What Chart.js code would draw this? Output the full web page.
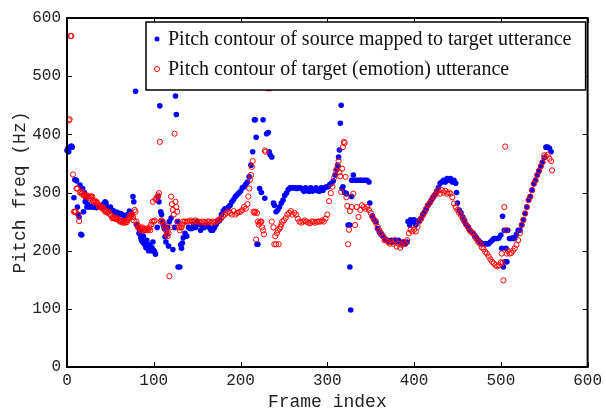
<!DOCTYPE html>
<html>
<head>
<meta charset="utf-8">
<script src="https://cdn.jsdelivr.net/npm/chart.js@4.4.1/dist/chart.umd.min.js"></script>
<style>
  html, body { margin: 0; padding: 0; background: #fff; }
</style>
</head>
<body>
<canvas id="pitch-chart" width="606" height="412"></canvas>
<script>
// Series names and axis ticks
const seriesLabels = [
    'Pitch contour of source mapped to target utterance',
    'Pitch contour of target (emotion) utterance'
];
const xTicks = [0, 100, 200, 300, 400, 500, 600];
const yTicks = [0, 100, 200, 300, 400, 500, 600];

// [frame index, pitch Hz]
const sourceContour = [
    [0,372],[1,376],[2,370],[3,378],[5,380],[6,378],[8,291],[9,322],[10,322],[11,320],
    [12,275],[13,262],[14,258],[15,313],[16,228],[17,227],[18,307],[19,267],[20,300],[21,284],
    [22,290],[23,275],[24,280],[26,275],[28,276],[30,275],[32,275],[34,274],[36,276],[38,275],
    [40,275],[42,280],[44,284],[45,282],[46,275],[48,272],[50,275],[52,270],[54,268],[56,265],
    [58,266],[60,262],[62,264],[64,262],[66,258],[68,260],[70,262],[72,268],[74,262],[76,293],
    [77,284],[79,474],[80,245],[82,240],[83,230],[84,232],[85,222],[86,218],[87,215],[88,225],
    [89,212],[90,210],[91,205],[92,218],[93,205],[94,200],[95,210],[96,204],[97,200],[98,205],
    [99,215],[100,200],[101,198],[102,194],[104,240],[105,293],[106,284],[107,449],[108,267],[109,262],
    [110,250],[111,244],[112,238],[113,224],[114,215],[115,230],[116,240],[117,208],[118,250],[120,256],
    [122,202],[124,240],[125,466],[126,434],[127,250],[128,172],[130,172],[131,210],[132,204],[133,213],
    [134,222],[136,230],[138,225],[140,240],[142,238],[144,238],[146,245],[148,240],[150,250],[152,245],
    [154,235],[156,243],[158,240],[160,243],[162,245],[164,240],[166,235],[168,235],[170,240],[172,245],
    [174,250],[176,252],[178,262],[180,268],[182,272],[184,272],[186,275],[188,278],[190,284],[192,288],
    [194,293],[196,296],[198,299],[200,302],[202,308],[204,310],[206,314],[208,318],[210,327],[212,347],
    [214,370],[216,425],[217,425],[218,395],[219,211],[220,211],[222,307],[224,300],[226,425],[228,290],
    [230,401],[232,403],[233,370],[234,365],[236,361],[238,282],[239,278],[241,267],[243,270],[245,275],
    [247,282],[249,287],[251,295],[253,299],[255,305],[257,308],[259,308],[261,308],[263,308],[265,307],
    [267,308],[269,308],[271,306],[273,302],[275,308],[277,303],[279,302],[281,308],[283,302],[285,304],
    [287,308],[289,303],[291,302],[293,308],[295,304],[297,308],[299,310],[301,310],[303,314],[305,316],
    [307,320],[309,330],[311,340],[312,347],[313,361],[314,373],[315,419],[316,450],[317,307],[318,310],
    [320,300],[322,298],[324,244],[326,172],[326,244],[327,98],[328,293],[328,321],[330,330],[332,321],
    [334,321],[336,321],[338,321],[340,321],[342,321],[344,321],[346,321],[348,318],[349,282],[352,260],
    [354,253],[356,250],[358,238],[360,232],[362,228],[364,225],[366,221],[368,218],[370,218],[372,215],
    [374,218],[376,215],[378,218],[380,215],[382,218],[384,215],[386,212],[388,215],[390,212],[392,215],
    [393,250],[395,244],[396,253],[398,250],[400,253],[402,244],[404,250],[406,252],[408,255],[410,262],
    [412,266],[414,272],[416,278],[418,282],[420,287],[422,292],[424,296],[426,302],[428,308],[430,316],
    [432,318],[434,321],[436,318],[438,324],[440,321],[442,324],[444,318],[446,321],[448,316],[449,300],
    [450,282],[452,270],[454,265],[456,258],[458,252],[460,245],[462,241],[464,236],[466,232],[468,230],
    [470,226],[472,222],[474,218],[476,215],[478,212],[480,212],[482,212],[484,212],[486,212],[488,215],
    [490,218],[492,221],[494,221],[496,221],[498,222],[500,227],[501,204],[502,259],[503,172],[504,235],
    [505,181],[506,204],[507,181],[508,235],[510,221],[512,221],[514,222],[516,221],[518,228],[520,235],
    [522,235],[524,244],[526,253],[528,264],[530,275],[532,287],[534,293],[536,304],[538,315],[540,321],
    [542,330],[544,337],[546,345],[548,352],[550,360],[552,378],[554,378],[556,376],[558,370]
];

const targetContour = [
    [2,424],[3,426],[4,569],[5,569],[7,331],[8,267],[9,267],[10,267],[11,307],[12,307],
    [13,262],[14,251],[15,300],[16,302],[17,298],[18,300],[19,295],[20,295],[21,295],[22,293],
    [23,295],[24,293],[25,293],[26,290],[27,293],[28,293],[29,293],[30,285],[31,284],[32,286],
    [33,284],[34,284],[35,282],[36,278],[37,275],[38,277],[40,275],[41,272],[42,274],[43,270],
    [44,267],[45,268],[46,267],[47,265],[48,267],[50,262],[51,260],[52,256],[53,258],[54,256],
    [55,255],[56,256],[57,254],[58,256],[60,252],[61,250],[62,252],[63,250],[64,248],[65,250],
    [66,251],[67,248],[68,250],[69,249],[70,252],[71,256],[72,258],[73,262],[74,260],[75,262],
    [76,258],[77,252],[78,270],[79,267],[80,250],[81,245],[82,240],[83,238],[84,240],[85,235],
    [86,238],[87,240],[88,235],[89,238],[90,235],[91,236],[92,238],[93,235],[94,236],[95,240],
    [96,235],[97,245],[98,250],[99,284],[100,250],[101,252],[102,288],[103,290],[104,292],[105,295],
    [106,299],[107,387],[108,250],[109,252],[110,250],[112,245],[113,240],[114,235],[115,228],[116,225],
    [117,230],[118,156],[119,240],[120,293],[121,280],[122,270],[123,262],[124,401],[125,284],[126,275],
    [127,267],[128,250],[129,240],[130,235],[131,240],[132,240],[133,245],[134,250],[136,250],[138,250],
    [140,250],[142,252],[144,250],[146,250],[148,252],[150,250],[152,250],[154,248],[156,250],[158,249],
    [160,248],[162,250],[164,250],[166,248],[168,250],[170,249],[172,250],[174,252],[176,254],[178,256],
    [180,260],[182,262],[184,265],[186,267],[188,265],[190,262],[192,268],[194,262],[196,265],[198,266],
    [200,267],[202,270],[204,275],[206,272],[208,280],[209,293],[210,307],[211,322],[212,330],[213,344],
    [214,354],[215,267],[216,265],[217,267],[218,219],[219,265],[220,250],[221,245],[222,248],[223,250],
    [224,250],[225,240],[226,235],[227,228],[228,372],[229,370],[230,482],[231,479],[233,482],[234,479],
    [236,250],[238,240],[239,211],[240,225],[241,211],[242,230],[243,235],[244,211],[245,238],[246,241],
    [247,245],[248,250],[250,252],[252,256],[254,262],[256,265],[258,268],[260,262],[262,265],[264,262],
    [266,255],[268,250],[270,248],[272,250],[274,252],[276,250],[278,248],[280,247],[282,250],[284,250],
    [286,248],[288,250],[290,250],[292,250],[294,252],[296,250],[298,255],[300,262],[302,285],[304,299],
    [306,310],[308,326],[310,338],[312,344],[313,354],[314,335],[315,328],[316,301],[317,341],[318,378],
    [319,387],[320,385],[321,327],[322,292],[323,277],[324,211],[325,236],[326,268],[328,275],[330,298],
    [332,244],[334,275],[336,258],[338,270],[340,278],[342,275],[344,272],[346,275],[348,270],[350,265],
    [352,258],[354,253],[356,248],[358,241],[360,235],[362,230],[364,225],[366,218],[368,218],[370,215],
    [372,212],[374,215],[376,212],[378,218],[380,207],[382,212],[384,205],[386,210],[388,215],[390,212],
    [392,218],[394,230],[396,236],[398,233],[400,236],[402,233],[404,241],[406,250],[408,255],[410,260],
    [412,266],[414,272],[416,278],[418,282],[420,287],[422,292],[424,296],[426,300],[428,304],[430,298],
    [432,304],[434,300],[436,303],[438,298],[440,300],[442,298],[444,292],[446,281],[448,275],[450,270],
    [452,265],[454,261],[456,255],[458,250],[460,245],[462,241],[464,235],[466,232],[468,230],[470,224],
    [472,220],[474,215],[476,212],[478,206],[480,203],[482,198],[484,195],[486,190],[488,185],[490,181],
    [492,178],[494,175],[496,173],[498,175],[500,180],[501,195],[502,179],[503,149],[504,275],[505,379],
    [506,235],[507,195],[508,200],[510,195],[512,196],[514,200],[516,204],[518,210],[520,218],[522,230],
    [524,244],[526,253],[528,264],[530,275],[532,287],[534,293],[536,304],[538,315],[540,321],[542,330],
    [544,337],[546,345],[548,352],[550,364],[552,362],[554,365],[556,358],[558,354],[559,338]
];

const BLUE = '#0000ff';
const RED = '#ff0000';
const MONO = "'Liberation Mono', 'DejaVu Sans Mono', monospace";
const SERIF = "'Liberation Serif', 'DejaVu Serif', serif";

// Box around the axes, inward ticks on all four sides, and the legend
const boxPlugin = {
    id: 'boxPlugin',
    afterDraw(chart) {
        const { ctx, chartArea: a, scales } = chart;
        const tickLen = 5;
        ctx.save();
        ctx.strokeStyle = '#000';
        ctx.lineWidth = 1;
        xTicks.forEach(v => {
            const px = Math.round(scales.x.getPixelForValue(v)) + 0.5;
            ctx.beginPath();
            ctx.moveTo(px, a.bottom); ctx.lineTo(px, a.bottom - tickLen);
            ctx.moveTo(px, a.top); ctx.lineTo(px, a.top + tickLen);
            ctx.stroke();
        });
        yTicks.forEach(v => {
            const py = Math.round(scales.y.getPixelForValue(v)) + 0.5;
            ctx.beginPath();
            ctx.moveTo(a.left, py); ctx.lineTo(a.left + tickLen, py);
            ctx.moveTo(a.right, py); ctx.lineTo(a.right - tickLen, py);
            ctx.stroke();
        });
        ctx.lineWidth = 2;
        ctx.strokeRect(a.left, a.top, a.right - a.left, a.bottom - a.top);

        // Legend box
        const lx = 146, ly = a.top + 4, lw = a.right - 2 - lx, lh = 68;
        ctx.fillStyle = '#fff';
        ctx.fillRect(lx, ly, lw, lh);
        ctx.lineWidth = 1.5;
        ctx.strokeStyle = '#000';
        ctx.strokeRect(lx, ly, lw, lh);

        const rows = [ly + 17, ly + 47];
        const ds = chart.data.datasets;
        ctx.font = '20px ' + SERIF;
        ctx.textBaseline = 'middle';
        ds.forEach((d, i) => {
            const cy = rows[i];
            ctx.beginPath();
            ctx.arc(lx + 11, cy, 2.5, 0, Math.PI * 2);
            if (i === 0) {
                ctx.fillStyle = d.pointBackgroundColor;
                ctx.fill();
            } else {
                ctx.strokeStyle = d.pointBorderColor;
                ctx.lineWidth = 1;
                ctx.stroke();
            }
            ctx.fillStyle = '#111';
            ctx.fillText(d.label, lx + 22, cy + 1);
        });
        ctx.restore();
    }
};

const toPoints = arr => arr.map(([f, hz]) => ({ x: f, y: hz }));

new Chart(document.getElementById('pitch-chart'), {
    type: 'scatter',
    data: {
        datasets: [{
            label: seriesLabels[0],
            data: toPoints(sourceContour),
            pointRadius: 2.8,
            pointBackgroundColor: BLUE,
            pointBorderColor: BLUE,
            pointBorderWidth: 0,
            order: 1,
            clip: false
        }, {
            label: seriesLabels[1],
            data: toPoints(targetContour),
            pointRadius: 2.6,
            pointBackgroundColor: 'rgba(0,0,0,0)',
            pointBorderColor: RED,
            pointBorderWidth: 1,
            order: 0,
            clip: false
        }]
    },
    options: {
        responsive: false,
        animation: false,
        layout: { padding: { top: 18, right: 16, left: 0, bottom: 0 } },
        plugins: {
            legend: { display: false },
            tooltip: { enabled: false }
        },
        scales: {
            x: {
                type: 'linear',
                min: 0,
                max: 600,
                afterBuildTicks: s => { s.ticks = xTicks.map(v => ({ value: v })); },
                afterFit: s => { s.height = 45; },
                grid: { display: false, drawTicks: false },
                border: { display: false },
                ticks: { padding: 4, maxRotation: 0, color: '#222', font: { family: MONO, size: 16 } },
                title: {
                    display: true,
                    text: 'Frame index',
                    color: '#222',
                    font: { family: MONO, size: 18, lineHeight: 1 },
                    padding: { top: 0, bottom: 1 }
                }
            },
            y: {
                type: 'linear',
                min: 0,
                max: 600,
                afterBuildTicks: s => { s.ticks = yTicks.map(v => ({ value: v })); },
                afterFit: s => { s.width = 67; },
                grid: { display: false, drawTicks: false },
                border: { display: false },
                ticks: { padding: 6, color: '#222', font: { family: MONO, size: 16 } },
                title: {
                    display: true,
                    text: 'Pitch freq (Hz)',
                    color: '#222',
                    font: { family: MONO, size: 18, lineHeight: 1 },
                    padding: { top: 11, bottom: 0 }
                }
            }
        }
    },
    plugins: [boxPlugin]
});
</script>
</body>
</html>
